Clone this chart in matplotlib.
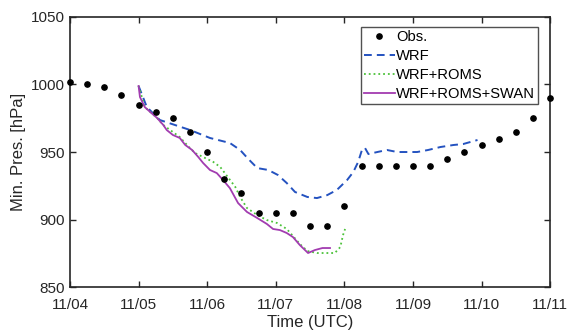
import matplotlib
matplotlib.use("Agg")
import matplotlib.pyplot as plt
import numpy as np

plt.rcParams['font.family'] = ['Liberation Sans', 'DejaVu Sans']

# time axis in days since 11/04 00 UTC
tick_days = [0, 1, 2, 3, 4, 5, 6, 7]
tick_labels = ['11/04', '11/05', '11/06', '11/07', '11/08', '11/09', '11/10', '11/11']

# observations, 6-hourly from 11/04 00 UTC
obs_days = np.arange(29) * 0.25
obs_pres = [1002, 1000, 998, 992, 985, 980, 975, 965, 950, 930, 920, 905, 905, 905,
            895, 895, 910, 940, 940, 940, 940, 940, 945, 950, 955, 960, 965, 975, 990]

wrf_days = [1.0, 1.12, 1.31, 1.53, 1.75, 2.04, 2.33, 2.48, 2.60, 2.73, 2.89, 3.03,
            3.16, 3.28, 3.46, 3.60, 3.75, 3.89, 4.04, 4.13, 4.20, 4.26, 4.30, 4.35,
            4.48, 4.62, 4.77, 4.91, 5.06, 5.22, 5.40, 5.59, 5.73, 5.94]
wrf_pres = [998.9, 983.3, 973.7, 970.0, 966.3, 960.4, 956.7, 951.5, 944.8, 938.1,
            936.7, 933.0, 927.0, 920.4, 916.7, 915.9, 918.1, 921.9, 929.3, 935.2,
            942.6, 952.2, 953.0, 948.5, 950.0, 951.5, 950.0, 950.0, 950.0, 951.5,
            953.7, 955.2, 955.9, 958.9]

roms_days = [1.0, 1.09, 1.27, 1.36, 1.46, 1.60, 1.72, 1.82, 1.94, 2.09, 2.19, 2.30,
             2.41, 2.48, 2.58, 2.73, 2.87, 3.02, 3.16, 3.25, 3.35, 3.46, 3.60, 3.75,
             3.86, 3.94, 3.98, 4.01]
roms_pres = [998.9, 983.3, 975.2, 970.0, 966.3, 961.1, 954.4, 949.3, 946.3, 942.6,
             938.9, 931.5, 924.1, 916.7, 908.5, 903.3, 899.6, 897.4, 893.0, 887.8,
             881.9, 876.7, 875.2, 875.2, 875.2, 879.6, 888.5, 893.0]

swan_days = [1.0, 1.02, 1.09, 1.17, 1.27, 1.36, 1.41, 1.50, 1.60, 1.68, 1.78, 1.87,
             1.94, 2.04, 2.14, 2.23, 2.33, 2.45, 2.58, 2.73, 2.87, 2.96, 3.06, 3.16,
             3.25, 3.35, 3.47, 3.57, 3.68, 3.79]
swan_pres = [998.9, 990.7, 983.3, 979.6, 975.2, 970.0, 966.3, 962.6, 960.4, 955.2,
             951.5, 946.3, 941.9, 936.7, 934.4, 929.3, 923.3, 912.2, 905.6, 901.1,
             896.7, 893.0, 892.2, 890.0, 887.0, 881.1, 875.2, 877.4, 878.9, 878.9]

fig = plt.figure(figsize=(5.69, 3.33), dpi=100)
ax = fig.add_axes([0.123, 0.138, 0.844, 0.811])

ax.plot(obs_days, obs_pres, 'o', color='black', markersize=3.8, label='Obs.',
        clip_on=False, zorder=5)
ax.plot(wrf_days, wrf_pres, color='#2452c0', linewidth=1.4, dashes=(4, 2.6),
        label='WRF')
ax.plot(roms_days, roms_pres, ':', color='#4cc23a', linewidth=1.3, label='WRF+ROMS')
ax.plot(swan_days, swan_pres, '-', color='#a23cb0', linewidth=1.3, label='WRF+ROMS+SWAN')

ax.set_xlim(0, 7)
ax.set_ylim(850, 1050)
ax.set_xticks(tick_days)
ax.set_xticklabels(tick_labels)
ax.set_yticks([850, 900, 950, 1000, 1050])
ax.tick_params(direction='in', top=True, right=True, length=4.5, width=1,
               labelsize=11, colors='#262626')
ax.tick_params(axis='x', pad=8)
ax.tick_params(axis='y', pad=4)
for s in ax.spines.values():
    s.set_linewidth(1.2)
    s.set_color('#262626')

ax.set_xlabel('Time (UTC)', fontsize=12, color='#262626', labelpad=2)
ax.set_ylabel('Min. Pres. [hPa]', fontsize=12, color='#262626', labelpad=3)

leg = ax.legend(loc='upper right', bbox_to_anchor=(0.975, 0.963), fontsize=10.6,
                frameon=True, fancybox=False, edgecolor='#262626',
                handlelength=2.1, handletextpad=0.1, labelspacing=0.35,
                borderpad=0.2, borderaxespad=0.0, markerscale=1.0)
leg.get_frame().set_linewidth(1.0)

fig.savefig('out.png', dpi=100)
